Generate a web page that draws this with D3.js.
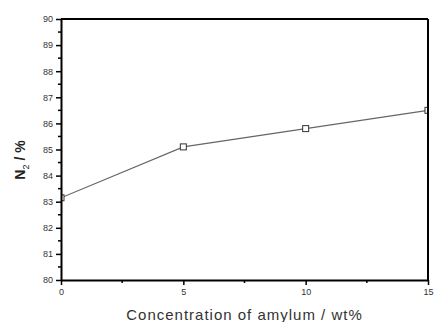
<!DOCTYPE html>
<html>
<head>
<meta charset="utf-8">
<script src="https://cdn.jsdelivr.net/npm/d3@7"></script>
<style>
  body { margin: 0; background: #fff; }
  svg { display: block; }
</style>
</head>
<body>
<div id="chart"></div>
<script>
// data
var concentration = [0, 5, 10, 15];
var n2Percent = [83.15, 85.1, 85.8, 86.5];
var xTicks = [0, 5, 10, 15];
var yTicks = [80, 81, 82, 83, 84, 85, 86, 87, 88, 89, 90];

var W = 434, H = 322;
var margin = { top: 19, left: 61, bottom: 42, right: 6 };
var width = W - margin.left - margin.right;
var height = H - margin.top - margin.bottom;

var svg = d3.select("#chart").append("svg")
  .attr("width", W)
  .attr("height", H);

var g = svg.append("g")
  .attr("transform", "translate(" + margin.left + "," + margin.top + ")");

var x = d3.scaleLinear().domain([0, 15]).range([0, width]);
var y = d3.scaleLinear().domain([80, 90]).range([height, 0]);

svg.append("defs").append("clipPath").attr("id", "plotclip")
  .append("rect").attr("x", 0).attr("y", 0).attr("width", width).attr("height", height);

// data line + markers, clipped to the frame
var plot = g.append("g").attr("clip-path", "url(#plotclip)");
var line = d3.line()
  .x(function(d, i) { return x(concentration[i]); })
  .y(function(d) { return y(d); });

plot.append("path")
  .datum(n2Percent)
  .attr("d", line)
  .attr("fill", "none")
  .attr("stroke", "#666")
  .attr("stroke-width", 1.2);

plot.selectAll(".pt")
  .data(n2Percent)
  .enter().append("rect")
  .attr("class", "pt")
  .attr("x", function(d, i) { return x(concentration[i]) - 3; })
  .attr("y", function(d) { return y(d) - 3; })
  .attr("width", 6)
  .attr("height", 6)
  .attr("fill", "#fff")
  .attr("stroke", "#333")
  .attr("stroke-width", 1);

// frame top / right
g.append("line").attr("x1", 0).attr("x2", width).attr("y1", 0).attr("y2", 0)
  .attr("stroke", "#000").attr("stroke-width", 2);
g.append("line").attr("x1", width).attr("x2", width).attr("y1", 0).attr("y2", height)
  .attr("stroke", "#000").attr("stroke-width", 2);

// minor ticks
var yMinor = d3.range(80.5, 90, 1);
var xMinor = [2.5, 7.5, 12.5];
g.selectAll(".ymin").data(yMinor).enter().append("line")
  .attr("x1", -3).attr("x2", 0)
  .attr("y1", function(d) { return y(d); }).attr("y2", function(d) { return y(d); })
  .attr("stroke", "#000").attr("stroke-width", 1.5);
g.selectAll(".xmin").data(xMinor).enter().append("line")
  .attr("y1", height).attr("y2", height + 3)
  .attr("x1", function(d) { return x(d); }).attr("x2", function(d) { return x(d); })
  .attr("stroke", "#000").attr("stroke-width", 1.5);

var yAxis = g.append("g")
  .call(d3.axisLeft(y).tickValues(yTicks).tickSize(5).tickPadding(3).tickSizeOuter(0));
var xAxis = g.append("g")
  .attr("transform", "translate(0," + height + ")")
  .call(d3.axisBottom(x).tickValues(xTicks).tickSize(5).tickPadding(4).tickSizeOuter(0));

[yAxis, xAxis].forEach(function(a) {
  a.select(".domain").attr("stroke", "#000").attr("stroke-width", 2);
  a.selectAll(".tick line").attr("stroke", "#000").attr("stroke-width", 1.5);
  a.selectAll(".tick text")
    .attr("fill", "#333")
    .style("font-family", "Arial, 'Liberation Sans', sans-serif")
    .style("font-size", "9px");
});

// axis titles
var yl = svg.append("text")
  .attr("transform", "translate(25,160) rotate(-90)")
  .attr("text-anchor", "middle")
  .style("font-family", "Arial, 'Liberation Sans', sans-serif")
  .style("font-size", "14px")
  .attr("fill", "#222");
yl.append("tspan").text("N").style("font-weight", "bold");
yl.append("tspan").text("2").attr("dy", 4).style("font-size", "9px");
yl.append("tspan").text(" / %").attr("dy", -4).style("font-weight", "bold");

svg.append("text")
  .attr("x", margin.left + width / 2)
  .attr("y", 320)
  .attr("text-anchor", "middle")
  .style("font-family", "Arial, 'Liberation Sans', sans-serif")
  .style("font-size", "15px")
  .style("letter-spacing", "1px")
  .attr("fill", "#333")
  .text("Concentration of amylum / wt%");
</script>
</body>
</html>
